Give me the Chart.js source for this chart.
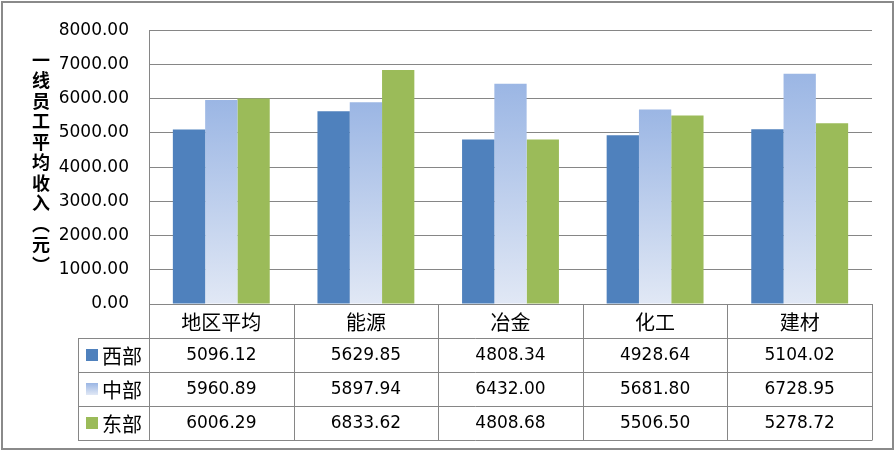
<!DOCTYPE html>
<html>
<head>
<meta charset="utf-8">
<script src="https://cdn.jsdelivr.net/npm/chart.js@4"></script>
<style>
  html, body { margin: 0; padding: 0; background: #fff; }
  #wrap { width: 895px; height: 451px; }
</style>
</head>
<body>
<div id="wrap"><canvas id="incomeChart" width="895" height="451"></canvas></div>
<script>
// 数据
const categories = ['地区平均', '能源', '冶金', '化工', '建材'];
const seriesNames = ['西部', '中部', '东部'];
const westValues = [5096.12, 5629.85, 4808.34, 4928.64, 5104.02];
const centralValues = [5960.89, 5897.94, 6432.00, 5681.80, 6728.95];
const eastValues = [6006.29, 6833.62, 4808.68, 5506.50, 5278.72];
const yTitle = ['一', '线', '员', '工', '平', '均', '收', '入', '︵', '元', '︶'];

const lineColor = '#868686';
const cjkFont = '"Noto Sans CJK SC", sans-serif';
const numFont = '"DejaVu Sans", sans-serif';

// 中部的渐变色（每根柱子单独渐变）
function centralFill(ctx) {
    const chart = ctx.chart;
    const y = chart.scales && chart.scales.y;
    if (!y || !chart.chartArea || ctx.raw === undefined) return '#A7BFE8';
    const top = y.getPixelForValue(ctx.raw);
    const bottom = y.getPixelForValue(0);
    const g = chart.ctx.createLinearGradient(0, top, 0, bottom);
    g.addColorStop(0, '#9BB6E4');
    g.addColorStop(1, '#E1E8F5');
    return g;
}

const legendSwatch = ['#4F81BD', null, '#9BBB59'];

// 下方数据表 + 纵向标题 + 外框
const tablePlugin = {
    id: 'dataTable',
    afterDraw(chart) {
        const c = chart.ctx;
        const area = chart.chartArea;
        const x = chart.scales.x;
        const left = area.left, right = area.right;
        const colW = (right - left) / categories.length;
        const headTop = area.bottom, headH = 34, rowH = 34;
        const legLeft = 78;
        const rows = [westValues, centralValues, eastValues];
        const tableBottom = headTop + headH + rowH * rows.length;

        c.save();
        c.strokeStyle = lineColor;
        c.lineWidth = 1;
        c.beginPath();
        for (let i = 0; i <= categories.length; i++) {
            const px = Math.round(left + colW * i) + 0.5;
            c.moveTo(px, headTop);
            c.lineTo(px, tableBottom);
        }
        c.moveTo(legLeft + 0.5, headTop + headH);
        c.lineTo(legLeft + 0.5, tableBottom);
        for (let r = 0; r <= rows.length; r++) {
            const py = Math.round(headTop + headH + rowH * r) + 0.5;
            c.moveTo(legLeft, py);
            c.lineTo(right + 0.5, py);
        }
        c.stroke();

        c.fillStyle = '#000';
        c.textAlign = 'center';
        c.textBaseline = 'middle';
        c.font = '20px ' + cjkFont;
        categories.forEach((cat, i) => {
            c.fillText(cat, x.getPixelForValue(i), headTop + headH / 2 + 1);
        });
        c.font = '17px ' + numFont;
        rows.forEach((vals, r) => {
            const cy = headTop + headH + rowH * r + rowH / 2 + 1;
            vals.forEach((v, i) => {
                c.fillText(v.toFixed(2), x.getPixelForValue(i), cy);
            });
        });

        // 图例
        rows.forEach((vals, r) => {
            const cy = headTop + headH + rowH * r + rowH / 2;
            if (r === 1) {
                const g = c.createLinearGradient(0, cy - 6, 0, cy + 6);
                g.addColorStop(0, '#9BB6E4');
                g.addColorStop(1, '#E1E8F5');
                c.fillStyle = g;
            } else {
                c.fillStyle = legendSwatch[r];
            }
            c.fillRect(86, Math.round(cy - 6), 12, 12);
            c.fillStyle = '#000';
            c.textAlign = 'left';
            c.font = '20px ' + cjkFont;
            c.fillText(seriesNames[r], 102, cy + 1);
        });

        // 纵轴标题（竖排）
        c.textAlign = 'center';
        c.font = 'bold 18px ' + cjkFont;
        yTitle.forEach((ch, i) => {
            c.fillText(ch, 41, 60 + i * 20.5);
        });

        // 外框
        c.strokeStyle = '#8A8A8A';
        c.lineWidth = 2;
        c.strokeRect(2, 2, 891, 447);
        c.restore();
    }
};

new Chart(document.getElementById('incomeChart'), {
    type: 'bar',
    data: {
        labels: categories,
        datasets: [{
            label: seriesNames[0],
            data: westValues,
            backgroundColor: '#4F81BD'
        }, {
            label: seriesNames[1],
            data: centralValues,
            backgroundColor: centralFill
        }, {
            label: seriesNames[2],
            data: eastValues,
            backgroundColor: '#9BBB59'
        }]
    },
    options: {
        responsive: false,
        animation: false,
        layout: { padding: { left: 0, top: 24, right: 23, bottom: 147 } },
        plugins: {
            legend: { display: false },
            tooltip: { enabled: false }
        },
        datasets: {
            bar: { categoryPercentage: 0.67, barPercentage: 1.0 }
        },
        scales: {
            x: { display: false },
            y: {
                min: 0,
                max: 8000,
                afterFit(scale) { scale.width = 149; },
                ticks: {
                    stepSize: 1000,
                    padding: 20,
                    color: '#000',
                    font: { family: 'DejaVu Sans', size: 17 },
                    callback: v => v.toFixed(2)
                },
                grid: { color: lineColor, drawTicks: false },
                border: { color: lineColor }
            }
        }
    },
    plugins: [tablePlugin]
});
</script>
</body>
</html>
